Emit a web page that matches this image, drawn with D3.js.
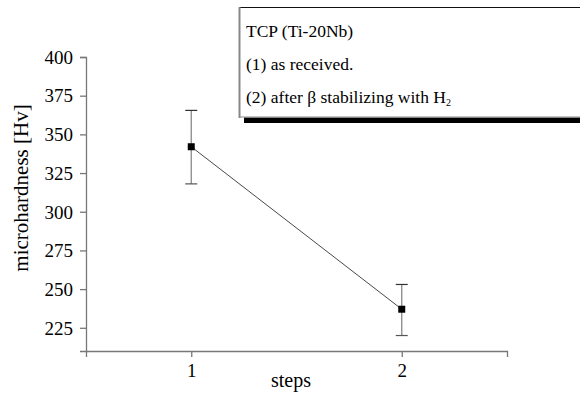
<!DOCTYPE html>
<html>
<head>
<meta charset="utf-8">
<script src="https://cdn.jsdelivr.net/npm/d3@7"></script>
<style>
  body { margin: 0; background: #fff; }
  .axis path, .axis line { stroke: #777; stroke-width: 1.3; }
</style>
</head>
<body>
<svg id="chart" width="580" height="395"></svg>
<script>
// data
var steps = [1, 2];
var hardness = [342, 237];
var errUpper = [365.5, 253];
var errLower = [318, 220];
var yTicks = [225, 250, 275, 300, 325, 350, 375, 400];
var legendLines = ["TCP (Ti-20Nb)", "(1) as received.", "(2) after \u03b2 stabilizing with H"];

var serif = "'Liberation Serif', 'Times New Roman', Times, serif";
var w = 580, h = 395;
var margin = {top: 57, left: 86, right: 73, bottom: 44};

var svg = d3.select("#chart").attr("font-family", serif);

var xScale = d3.scaleLinear()
    .domain([0.5, 2.5])
    .range([margin.left, w - margin.right]);

var yScale = d3.scaleLinear()
    .domain([210, 400])
    .range([351, 57]);

// axes
var xAxis = d3.axisBottom(xScale).tickValues(steps).tickFormat(d3.format("d")).tickSizeOuter(0).tickSize(6);
var yAxis = d3.axisLeft(yScale).tickValues(yTicks).tickSizeOuter(0).tickSize(6);

var gx = svg.append("g")
   .attr("class", "axis")
   .attr("transform", "translate(0," + yScale(210) + ")")
   .call(xAxis)
   .attr("font-family", serif)
   .attr("font-size", 19);
gx.selectAll("text").attr("fill", "#000").attr("y", 10).attr("dy", "0.85em");

var gy = svg.append("g")
   .attr("class", "axis")
   .attr("transform", "translate(" + margin.left + ",0)")
   .call(yAxis)
   .attr("font-family", serif)
   .attr("font-size", 19);
gy.selectAll("text").attr("fill", "#000").attr("x", -13).attr("dy", "0.33em");

// axis titles
svg.append("text")
   .attr("x", 291)
   .attr("y", 387)
   .attr("text-anchor", "middle")
   .attr("font-size", 20)
   .text("steps");

svg.append("text")
   .attr("text-anchor", "middle")
   .attr("transform", "translate(28," + 188 + ")rotate(270)")
   .attr("font-size", 21)
   .text("microhardness [Hv]");

// connecting line
var line = d3.line()
   .x(function(d, i) { return xScale(steps[i]); })
   .y(function(d) { return yScale(d); });

svg.append("path")
   .datum(hardness)
   .attr("d", line)
   .attr("fill", "none")
   .attr("stroke", "#333")
   .attr("stroke-width", 0.9);

// error bars
var eb = svg.selectAll(".err")
   .data(steps)
   .enter()
   .append("g")
   .attr("class", "err");

eb.append("line")
   .attr("x1", function(d) { return xScale(d); })
   .attr("x2", function(d) { return xScale(d); })
   .attr("y1", function(d, i) { return yScale(errUpper[i]); })
   .attr("y2", function(d, i) { return yScale(errLower[i]); })
   .attr("stroke", "#888")
   .attr("stroke-width", 1.3);

eb.append("line")
   .attr("x1", function(d) { return xScale(d) - 6; })
   .attr("x2", function(d) { return xScale(d) + 6; })
   .attr("y1", function(d, i) { return yScale(errUpper[i]); })
   .attr("y2", function(d, i) { return yScale(errUpper[i]); })
   .attr("stroke", "#333")
   .attr("stroke-width", 1.2);

eb.append("line")
   .attr("x1", function(d) { return xScale(d) - 6; })
   .attr("x2", function(d) { return xScale(d) + 6; })
   .attr("y1", function(d, i) { return yScale(errLower[i]); })
   .attr("y2", function(d, i) { return yScale(errLower[i]); })
   .attr("stroke", "#555")
   .attr("stroke-width", 1.2);

// markers
svg.selectAll(".marker")
   .data(hardness)
   .enter()
   .append("rect")
   .attr("class", "marker")
   .attr("x", function(d, i) { return xScale(steps[i]) - 3.5; })
   .attr("y", function(d) { return yScale(d) - 3.5; })
   .attr("width", 7)
   .attr("height", 7)
   .attr("fill", "#000");

// legend box with shadow
var lg = svg.append("g");
lg.append("rect")
   .attr("x", 244).attr("y", 117)
   .attr("width", 340).attr("height", 6)
   .attr("fill", "#000");
lg.append("rect")
   .attr("x", 239.5).attr("y", 7.5)
   .attr("width", 345).attr("height", 110)
   .attr("fill", "#fff")
   .attr("stroke", "none");
lg.append("line")
   .attr("x1", 239).attr("x2", 580).attr("y1", 7.5).attr("y2", 7.5)
   .attr("stroke", "#111").attr("stroke-width", 1.2);
lg.append("line")
   .attr("x1", 239.5).attr("x2", 239.5).attr("y1", 7).attr("y2", 118)
   .attr("stroke", "#888").attr("stroke-width", 2);
lg.append("line")
   .attr("x1", 239).attr("x2", 580).attr("y1", 117).attr("y2", 117)
   .attr("stroke", "#888").attr("stroke-width", 1);

var baselines = [37, 70, 103];
lg.selectAll(".lgtext")
   .data(legendLines)
   .enter()
   .append("text")
   .attr("class", "lgtext")
   .attr("x", 246)
   .attr("y", function(d, i) { return baselines[i]; })
   .attr("font-size", 17.5)
   .text(function(d) { return d; })
   .filter(function(d, i) { return i === 2; })
   .append("tspan")
   .attr("dy", 3)
   .attr("font-size", 10)
   .text("2");
</script>
</body>
</html>
